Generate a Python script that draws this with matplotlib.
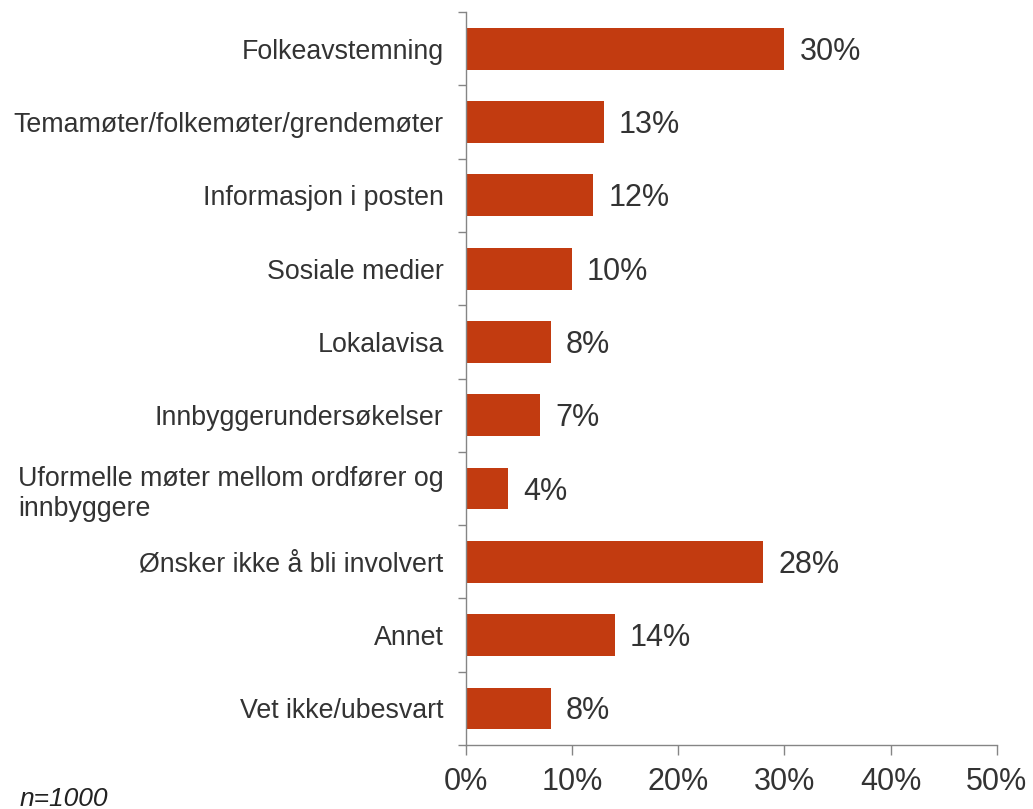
import numpy as np
from matplotlib import pyplot as plt
from matplotlib.ticker import FixedLocator

categories = [
	"Folkeavstemning",
	"Temamøter/folkemøter/grendemøter",
	"Informasjon i posten",
	"Sosiale medier",
	"Lokalavisa",
	"Innbyggerundersøkelser",
	"Uformelle møter mellom ordfører og\ninnbyggere",
	"Ønsker ikke å bli involvert",
	"Annet",
	"Vet ikke/ubesvart",
]
values = [30, 13, 12, 10, 8, 7, 4, 28, 14, 8]
x_ticks = [0, 10, 20, 30, 40, 50]
x_labels = ["0%", "10%", "20%", "30%", "40%", "50%"]
note = "n=1000"

plt.rcParams['font.family'] = ['Liberation Sans', 'DejaVu Sans']
text_color = "#333333"
axis_color = "#858585"
bar_color = "#C23B10"

fig = plt.figure(figsize=(10.33, 8.09), dpi=100)
ax = fig.add_axes([0.451, 0.079, 0.514, 0.906])

y = np.arange(len(categories))
ax.barh(y, values, height=0.57, color=bar_color, edgecolor="none")

for yi, v in zip(y, values):
	ax.annotate(f"{v}%", xy=(v, yi), xytext=(15, -3), textcoords="offset pixels",
		ha="left", va="center", fontsize=22, color=text_color)

ax.set_xlim(0, 50)
ax.set_ylim(len(categories) - 0.5, -0.5)

ax.set_xticks(x_ticks)
ax.set_xticklabels(x_labels, fontsize=22, color=text_color)
ax.tick_params(axis="x", length=7, width=1, color=axis_color, pad=9)

# boundaries get tick marks, centres get labels
ax.yaxis.set_major_locator(FixedLocator(np.arange(-0.5, len(categories), 1)))
ax.yaxis.set_minor_locator(FixedLocator(y))
ax.set_yticklabels([""] * (len(categories) + 1))
ax.set_yticks(y, minor=True)
ax.set_yticklabels(categories, minor=True, fontsize=19.3, color=text_color,
	multialignment="left")
ax.tick_params(axis="y", which="major", length=6, width=1, color=axis_color)
ax.tick_params(axis="y", which="minor", length=0, pad=16)

for s in ["top", "right"]:
	ax.spines[s].set_visible(False)
for s in ["left", "bottom"]:
	ax.spines[s].set_color(axis_color)
	ax.spines[s].set_linewidth(1)

fig.text(0.019, 0.004, note, fontsize=19, style="italic", color="#222222")

plt.savefig("out.png", dpi=100)
plt.close()
